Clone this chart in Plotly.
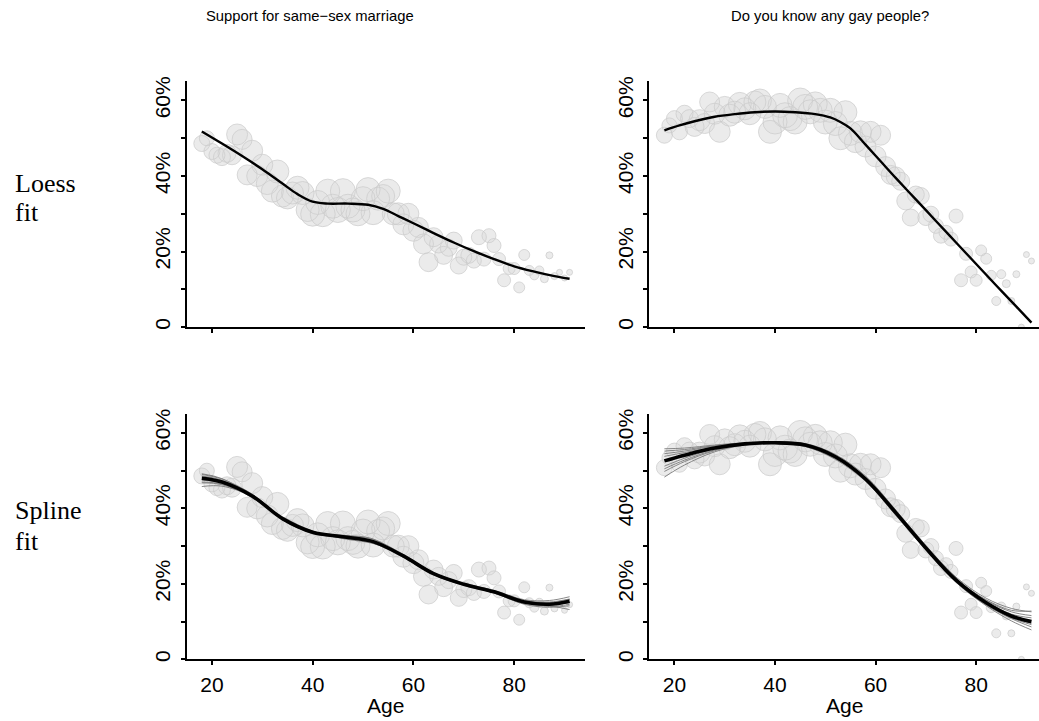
import plotly.graph_objects as go

W, H = 1039, 721

# ---------------- data ----------------
ages = list(range(18, 92))

support_pct = [48.6, 50.0, 46.5, 45.5, 45.0, 46.0, 45.5, 51.0, 49.7, 40.3,
               46.7, 40.0, 43.0, 38.0, 36.0, 41.2, 34.7, 34.2, 35.5, 36.9,
               35.5, 31.0, 29.9, 33.0, 29.9, 36.0, 32.0, 31.0, 36.0, 32.0,
               31.0, 30.0, 34.0, 36.4, 30.3, 34.0, 34.7, 36.0, 30.0, 30.0,
               27.2, 30.0, 25.5, 26.4, 22.0, 17.2, 23.8, 22.0, 19.0, 21.0,
               22.9, 16.3, 18.5, 19.0, 17.6, 23.8, 18.0, 24.2, 21.6, 18.0,
               12.4, 15.5, 15.5, 10.5, 19.1, 15.0, 13.7, 15.0, 12.8, 19.0,
               13.5, 14.5, 13.0, 14.5]

know_pct = [50.8, 53.4, 55.2, 51.7, 56.5, 55.2, 53.0, 54.8, 53.9, 59.6,
            56.5, 51.7, 58.3, 56.1, 56.9, 59.1, 57.8, 56.5, 59.6, 60.0,
            58.3, 51.7, 54.3, 58.7, 56.1, 55.2, 54.3, 60.0, 58.3, 57.0,
            59.1, 57.4, 54.3, 57.4, 53.9, 50.0, 56.9, 51.3, 49.1, 51.7,
            47.8, 51.7, 45.2, 50.8, 42.5, 40.3, 39.9, 38.6, 33.4, 29.0,
            35.1, 34.7, 29.0, 29.9, 26.8, 24.2, 25.1, 23.3, 29.4, 12.4,
            19.4, 14.6, 12.4, 20.3, 18.1, 13.7, 6.9, 14.0, 11.5, 6.9,
            14.0, 0.0, 19.2, 17.5]

bubble_size = [16, 15, 16, 16, 17, 18, 19, 21, 20, 20,
               21, 21, 21, 22, 22, 23, 22, 22, 22, 23,
               23, 23, 24, 24, 25, 24, 24, 25, 25, 24,
               24, 24, 24, 24, 24, 23, 23, 24, 22, 22,
               21, 21, 21, 20, 20, 19, 19, 18, 18, 17,
               17, 17, 16, 16, 15, 15, 14, 14, 14, 13,
               13, 12, 12, 11, 11, 10, 9, 9, 8, 7,
               7, 6, 6, 6]

loess_support_ages = [18, 22, 26, 30, 34, 37, 40, 43, 47, 51, 54, 57, 60, 64, 68, 72, 76, 80, 84, 88, 91]
loess_support = [51.8, 48.6, 45.3, 41.8, 38.0, 35.2, 33.2, 32.7, 32.7, 32.4, 31.3,
                 29.4, 27.5, 24.9, 22.4, 20.1, 18.0, 16.1, 14.7, 13.5, 12.8]

loess_know_ages = [18, 21, 24, 28, 32, 36, 40, 44, 48, 51, 53, 55, 58, 61, 64, 68, 72, 76, 80, 84, 88, 91]
loess_know = [52.1, 53.4, 54.5, 55.7, 56.4, 56.9, 57.1, 56.9, 56.4, 55.5, 54.3,
              52.6, 48.3, 43.9, 39.5, 33.8, 28.1, 22.4, 16.7, 11.0, 5.4, 1.2]

knot_ages = [18, 22, 28, 34, 40, 46, 52, 58, 64, 70, 76, 82, 87, 91]

spline_support = [48.0, 47.0, 43.3, 37.3, 33.7, 32.5, 31.2, 27.4, 22.7, 19.9, 17.9, 15.2, 14.6, 15.4]
spline_support_draw1 = [49.0, 47.8, 43.8, 37.6, 33.9, 32.8, 31.8, 27.8, 22.9, 20.2, 18.3, 15.8, 15.6, 16.6]
spline_support_draw2 = [46.8, 46.3, 43.0, 37.0, 33.4, 32.2, 30.8, 27.0, 22.4, 19.6, 17.6, 14.6, 13.8, 14.2]
spline_support_draw3 = [48.6, 47.5, 43.4, 37.5, 33.6, 32.7, 31.5, 27.6, 22.8, 19.8, 18.0, 15.5, 14.9, 15.8]
spline_support_draw4 = [45.8, 45.9, 43.1, 37.2, 33.9, 32.2, 31.0, 27.3, 22.6, 20.1, 17.8, 15.0, 14.2, 13.2]
spline_support_draw5 = [47.5, 46.8, 43.5, 37.0, 33.5, 32.9, 31.9, 27.2, 22.5, 19.7, 18.1, 15.6, 15.2, 16.0]
spline_support_draw6 = [48.3, 47.2, 42.8, 37.8, 34.0, 32.0, 30.7, 27.6, 23.0, 19.9, 17.6, 14.8, 14.6, 15.0]
spline_support_draw7 = [47.0, 46.5, 43.6, 37.4, 33.3, 32.6, 31.4, 27.5, 22.7, 20.0, 18.2, 15.3, 14.0, 14.6]
spline_support_draw8 = [49.2, 47.9, 43.2, 37.1, 33.8, 32.4, 31.1, 27.1, 22.5, 19.8, 17.7, 15.1, 15.0, 15.9]

spline_know = [52.6, 54.1, 56.0, 57.1, 57.4, 56.8, 53.7, 47.8, 38.9, 29.5, 21.0, 15.0, 11.5, 10.0]
spline_know_draw1 = [55.8, 56.0, 56.8, 57.4, 57.6, 57.2, 54.3, 48.6, 39.6, 30.2, 21.8, 16.2, 13.5, 12.6]
spline_know_draw2 = [48.3, 51.5, 55.0, 56.8, 57.2, 56.4, 53.0, 47.2, 38.2, 29.0, 20.4, 14.2, 10.2, 7.8]
spline_know_draw3 = [54.5, 55.2, 56.5, 57.3, 57.5, 56.9, 53.9, 48.1, 39.2, 29.8, 21.4, 15.6, 12.6, 11.6]
spline_know_draw4 = [50.5, 52.8, 55.5, 56.9, 57.3, 56.7, 53.5, 47.5, 38.6, 29.2, 20.7, 14.6, 11.0, 9.2]
spline_know_draw5 = [53.8, 54.8, 56.2, 57.0, 57.2, 56.5, 53.2, 47.6, 38.7, 29.6, 21.3, 15.8, 13.0, 12.8]
spline_know_draw6 = [51.2, 53.3, 55.8, 57.2, 57.6, 57.1, 54.1, 48.3, 39.3, 29.4, 20.6, 14.4, 10.8, 8.6]
spline_know_draw7 = [55.2, 55.6, 56.6, 57.1, 57.3, 56.6, 53.4, 47.3, 38.4, 29.3, 21.0, 15.2, 12.0, 11.0]
spline_know_draw8 = [49.8, 52.4, 55.3, 57.0, 57.5, 57.0, 53.8, 48.0, 39.0, 29.7, 21.2, 15.0, 11.2, 9.6]

support_draws = [spline_support_draw1, spline_support_draw2, spline_support_draw3, spline_support_draw4,
                 spline_support_draw5, spline_support_draw6, spline_support_draw7, spline_support_draw8]
know_draws = [spline_know_draw1, spline_know_draw2, spline_know_draw3, spline_know_draw4,
              spline_know_draw5, spline_know_draw6, spline_know_draw7, spline_know_draw8]

column_titles = ["Support for same\u2212sex marriage", "Do you know any gay people?"]
row_labels = [["Loess", "fit"], ["Spline", "fit"]]
y_tickvals = [0, 10, 20, 30, 40, 50, 60]
y_ticktext = ["0", "", "20%", "", "40%", "", "60%"]
x_tickvals = [20, 40, 60, 80]
x_title = "Age"

# ---------------- figure ----------------
FILL = "#e3e3e3"
EDGE = "#cbcbcb"
SANS = "Liberation Sans, Arial, sans-serif"
SERIF = "Liberation Serif, Times New Roman, serif"

fig = go.Figure()

panels = [
    ("x", "y", support_pct, loess_support_ages, loess_support, None),
    ("x2", "y2", know_pct, loess_know_ages, loess_know, None),
    ("x3", "y3", support_pct, knot_ages, spline_support, support_draws),
    ("x4", "y4", know_pct, knot_ages, spline_know, know_draws),
]

for xa, ya, vals, fx, fy, draws in panels:
    fig.add_trace(go.Scatter(x=ages, y=vals, xaxis=xa, yaxis=ya, mode="markers",
                             marker=dict(size=bubble_size, color=FILL, line=dict(width=0)),
                             hoverinfo="skip", showlegend=False))
    fig.add_trace(go.Scatter(x=ages, y=vals, xaxis=xa, yaxis=ya, mode="markers",
                             marker=dict(size=bubble_size, symbol="circle-open", color=EDGE,
                                         line=dict(width=1, color=EDGE)),
                             hoverinfo="skip", showlegend=False))
    if draws:
        for d in draws:
            fig.add_trace(go.Scatter(x=knot_ages, y=d, xaxis=xa, yaxis=ya, mode="lines",
                                     line=dict(color="#7a7a7a", width=0.9, shape="spline", smoothing=1.0),
                                     hoverinfo="skip", showlegend=False))
        fig.add_trace(go.Scatter(x=fx, y=fy, xaxis=xa, yaxis=ya, mode="lines",
                                 line=dict(color="black", width=3.6, shape="spline", smoothing=1.0),
                                 hoverinfo="skip", showlegend=False))
    else:
        fig.add_trace(go.Scatter(x=fx, y=fy, xaxis=xa, yaxis=ya, mode="lines",
                                 line=dict(color="black", width=2.4, shape="spline", smoothing=1.0),
                                 hoverinfo="skip", showlegend=False))


def dx(p):
    return p / W


def dy(p):
    return 1 - p / H


xdoms = [[dx(186.7), dx(584.7)], [dx(649.3), 1.0]]
xranges = [[15, 94], [15, 92.5]]
ydoms = [[dy(325.7), dy(76.7)], [dy(661.7), dy(413.3)]]
yranges = [[0, 65.2], [0, 65.1]]
age_title_x = [385.7, 844.0]

tickfont = dict(family=SANS, size=21, color="black")
common_axis = dict(showgrid=False, zeroline=False, showline=True, linecolor="black", linewidth=1.8,
                   ticks="outside", ticklen=4, tickwidth=1.5, tickcolor="black", tickfont=tickfont,
                   fixedrange=True)

layout_axes = {}
for i in range(4):
    r, c = divmod(i, 2)
    sfx = "" if i == 0 else str(i + 1)
    xa_cfg = dict(common_axis, domain=xdoms[c], range=xranges[c], anchor="y" + sfx,
                  tickvals=x_tickvals, showticklabels=(r == 1), ticklabelstandoff=2)
    ya_cfg = dict(common_axis, domain=ydoms[r], range=yranges[r], anchor="x" + sfx,
                  tickvals=y_tickvals, ticktext=y_ticktext, tickangle=-90, ticklabelstandoff=2)
    layout_axes["xaxis" + sfx] = xa_cfg
    layout_axes["yaxis" + sfx] = ya_cfg

annotations = []
for title, cx in zip(column_titles, [310, 830]):
    annotations.append(dict(text=title, x=dx(cx), y=dy(11), xref="paper", yref="paper",
                            xanchor="center", yanchor="middle", showarrow=False,
                            font=dict(family=SANS, size=14.8, color="black")))
for (l1, l2), (b1, b2) in zip(row_labels, [(191.7, 221.7), (522.7, 553.7)]):
    for txt, base in ((l1, b1), (l2, b2)):
        annotations.append(dict(text=txt, x=dx(13), y=dy(base - 11.5), xref="paper", yref="paper",
                                xanchor="left", yanchor="middle", showarrow=False,
                                font=dict(family=SERIF, size=26, color="black")))
for cx in age_title_x:
    annotations.append(dict(text=x_title, x=dx(cx), y=dy(708.5), xref="paper", yref="paper",
                            xanchor="center", yanchor="middle", showarrow=False,
                            font=dict(family=SANS, size=21, color="black")))

fig.update_layout(width=W, height=H, margin=dict(l=0, r=0, t=0, b=0),
                  paper_bgcolor="white", plot_bgcolor="white",
                  annotations=annotations, **layout_axes)

fig.write_html("out.html", config={"displayModeBar": False},
               post_script="document.body.style.margin='0';document.body.style.overflow='hidden';")
